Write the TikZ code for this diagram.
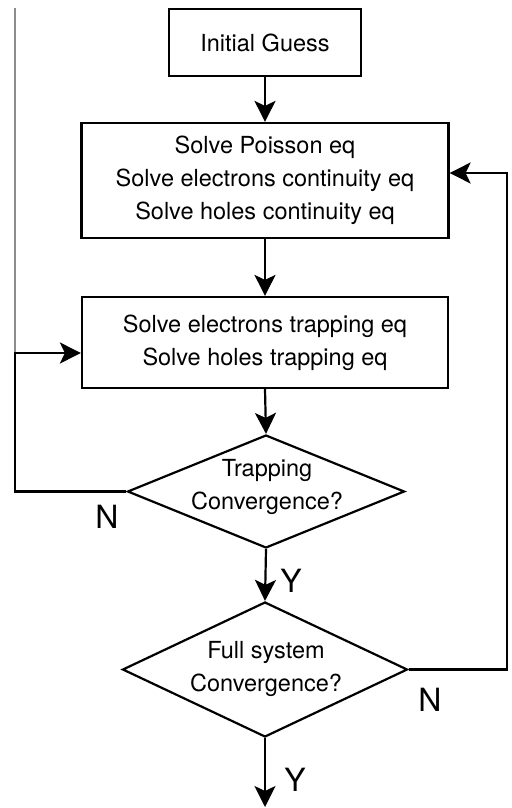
\documentclass[tikz,border=0pt]{standalone}
\usepackage{fontspec}
\setmainfont{TeX Gyre Heros}
\usetikzlibrary{shapes.geometric,arrows.meta}

\begin{document}
\begin{tikzpicture}[y=-.5pt, x=.5pt, font=\fontsize{11.75}{16.5}\selectfont,
  process/.style={draw, line width=1.1pt, align=center, inner sep=0pt},
  decision/.style={draw, shape=diamond, line width=1.1pt, inner sep=0pt},
  arr/.style={line width=1.1pt, -{Stealth[length=10.5pt,width=10.5pt,inset=2.5pt]}},
  yn/.style={font=\fontsize{16}{16}\selectfont}]

\useasboundingbox (0,0) rectangle (511,808);

\draw[black!45, line width=.8pt] (15,8) -- (15,353);

\node[process, minimum width=96pt, minimum height=33.5pt] (guess) at (265,42.5) {Initial Guess};
\node[process, minimum width=183.5pt, minimum height=57.5pt] (solve) at (265,180.5)
  {Solve Poisson eq\\Solve electrons continuity eq\\Solve holes continuity eq};
\node[process, minimum width=183pt, minimum height=45.5pt] (trapsolve) at (265,342.5)
  {Solve electrons trapping eq\\Solve holes trapping eq};

\node[decision, minimum width=138.5pt, minimum height=56.5pt] (trapconv) at (266,491.5) {};
\node[align=center] (traptext) at (267,487) {Trapping\\Convergence?};
\node[decision, minimum width=142.5pt, minimum height=67.5pt] (fullconv) at (265,669.5) {};
\node[align=center] (fulltext) at (266,669) {Full system\\Convergence?};

\coordinate (lbend) at (15,353);
\coordinate (rbend) at (507,173);
\coordinate (done) at (265,807);

\draw[arr] (guess.south) -- (solve.north);
\draw[arr] (solve.south) -- (trapsolve.north);
\draw[arr] (trapsolve.south) -- (trapconv.north);
\draw[arr] (trapconv.south) -- (fullconv.north);
\draw[arr] (fullconv.south) -- (done);
\draw[arr] (trapconv.west) -| (lbend) -- (trapsolve.west |- lbend);
\draw[arr] (fullconv.east) -| (rbend) -- (solve.east |- rbend);

\node[yn] (trapno) at (107,517) {N};
\node[yn] (trapyes) at (291,581) {Y};
\node[yn] (fullno) at (430,700) {N};
\node[yn] (fullyes) at (295,780) {Y};
\end{tikzpicture}
\end{document}
